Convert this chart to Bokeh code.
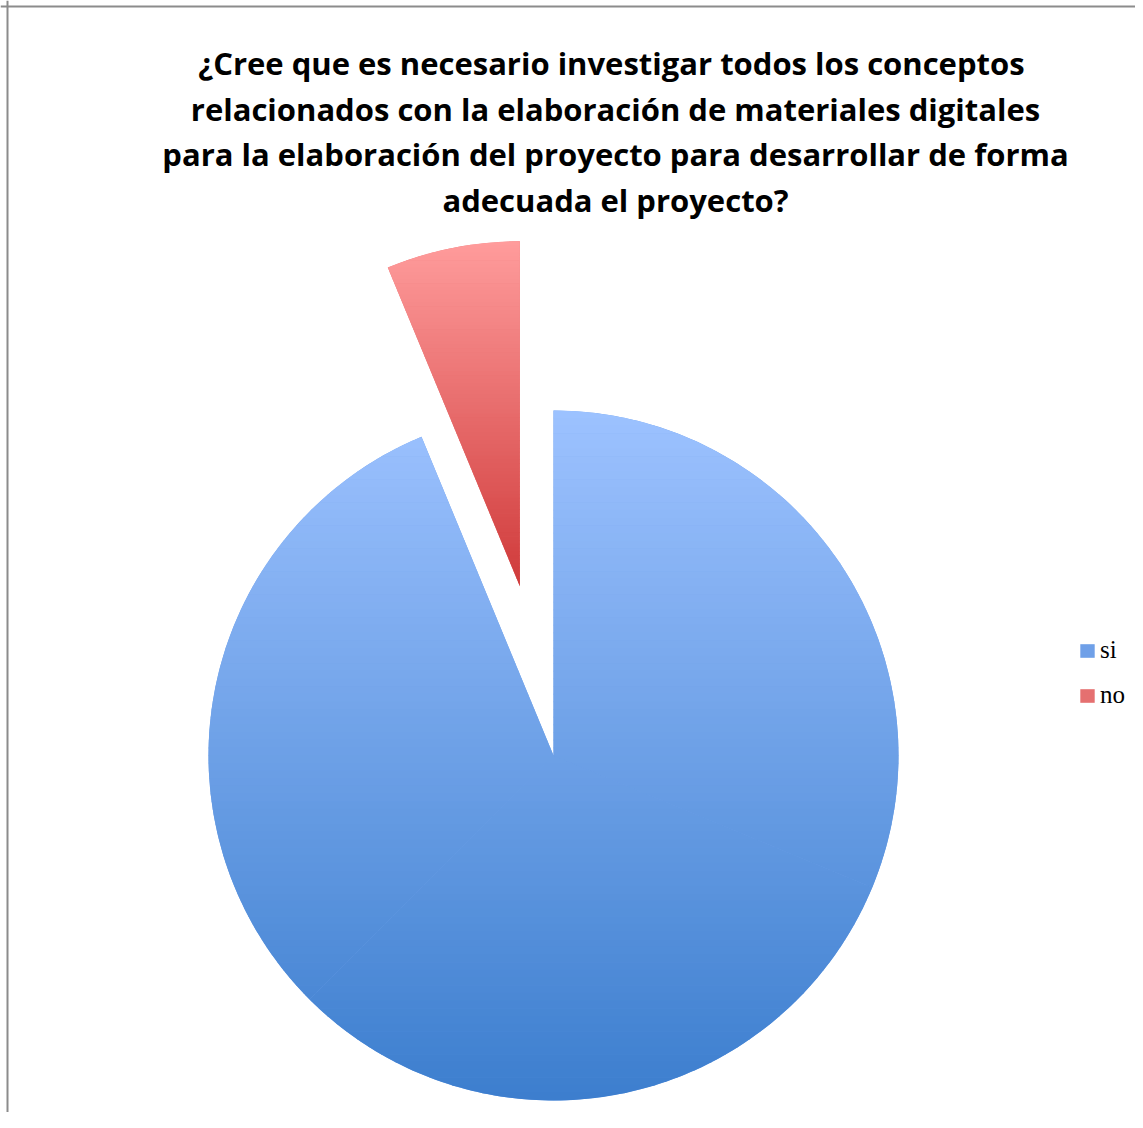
import math
from bokeh.plotting import figure
from bokeh.models import Range1d, Legend, LegendItem, Span, ColumnDataSource
from bokeh.core.properties import value
from bokeh.embed import file_html
from bokeh.resources import INLINE

# ---- data ----
categories = ["si", "no"]
counts = [15, 1]
title_lines = [
    "¿Cree que es necesario investigar todos los  conceptos",
    "relacionados con la elaboración de materiales digitales",
    "para la elaboración del proyecto para desarrollar de forma",
    "adecuada el proyecto?",
]
top_colors = [(157, 194, 255), (255, 156, 156)]
bottom_colors = [(60, 126, 206), (207, 58, 58)]
mid_colors = ["#6FA0E8", "#E57070"]
explode = [0.0, 0.5]

# ---- layout ----
W, H = 1135, 1112
CX, CY, R = 553, H - 755, 345

p = figure(width=W, height=H, output_backend="svg", toolbar_location=None,
           x_range=Range1d(0, W), y_range=Range1d(0, H), min_border=0,
           match_aspect=False)
p.axis.visible = False
p.grid.visible = False
p.outline_line_color = None
p.background_fill_color = "white"

total = sum(counts)
starts, ends, cxs, cys = [], [], [], []
cum = 0.0
for c, e in zip(counts, explode):
    a_end = math.pi / 2 - cum / total * 2 * math.pi
    cum += c
    a_start = math.pi / 2 - cum / total * 2 * math.pi
    mid = (a_start + a_end) / 2
    starts.append(a_start)
    ends.append(a_end)
    cxs.append(CX + e * R * math.cos(mid))
    cys.append(CY + e * R * math.sin(mid))

src = ColumnDataSource(dict(x=cxs, y=cys, start=starts, end=ends,
                            color=mid_colors, label=categories))
wr = p.wedge(x="x", y="y", radius=R, start_angle="start", end_angle="end",
             fill_color="color", line_color=None, source=src)


def sector(cx, cy, a0, a1):
    n = max(8, int(abs(a1 - a0) / (2 * math.pi) * 360))
    pts = [(cx, cy)]
    for k in range(n + 1):
        a = a0 + (a1 - a0) * k / n
        pts.append((cx + R * math.cos(a), cy + R * math.sin(a)))
    return pts


def clip(poly, ylo, yhi):
    def clip_edge(pts, inside, inter):
        out = []
        if not pts:
            return out
        prev = pts[-1]
        for cur in pts:
            if inside(cur):
                if not inside(prev):
                    out.append(inter(prev, cur))
                out.append(cur)
            elif inside(prev):
                out.append(inter(prev, cur))
            prev = cur
        return out

    def inter_y(yv):
        def f(a, b):
            t = (yv - a[1]) / (b[1] - a[1])
            return (a[0] + t * (b[0] - a[0]), yv)
        return f

    pts = clip_edge(poly, lambda q: q[1] >= ylo, inter_y(ylo))
    pts = clip_edge(pts, lambda q: q[1] <= yhi, inter_y(yhi))
    return pts


xs_all, ys_all, cols_all = [], [], []
NB = 90
for i in range(len(counts)):
    a0, a1 = starts[i], ends[i]
    span = a1 - a0
    npieces = max(1, int(math.ceil(span / (2 * math.pi / 3))))
    pieces = [sector(cxs[i], cys[i], a0 + span * k / npieces, a0 + span * (k + 1) / npieces)
              for k in range(npieces)]
    allpts = [q for pc in pieces for q in pc]
    ymin = min(q[1] for q in allpts)
    ymax = max(q[1] for q in allpts)
    for b in range(NB):
        yhi = ymax - (ymax - ymin) * b / NB
        ylo = ymax - (ymax - ymin) * (b + 1) / NB
        t = (b + 0.5) / NB
        c = tuple(int(round(top_colors[i][j] + (bottom_colors[i][j] - top_colors[i][j]) * t)) for j in range(3))
        hexc = "#%02x%02x%02x" % c
        for pc in pieces:
            cp = clip(pc, ylo - 0.3, yhi + 0.3)
            if len(cp) >= 3:
                xs_all.append([q[0] for q in cp])
                ys_all.append([q[1] for q in cp])
                cols_all.append(hexc)

p.patches(xs_all, ys_all, fill_color=cols_all, line_color=None)

# title
title_y = [H - 62, H - 108, H - 153, H - 199]
p.text(x=[615] * len(title_lines), y=title_y, text=title_lines,
       text_font=value("Open Sans"), text_font_style="bold",
       text_font_size="31px", text_align="center", text_baseline="middle",
       text_color="black")

# border (left + top)
p.add_layout(Span(location=7, dimension="height", line_color="#8c8c8c", line_width=2))
p.add_layout(Span(location=H - 6, dimension="width", line_color="#8c8c8c", line_width=2))

legend = Legend(items=[LegendItem(label=categories[i], renderers=[wr], index=i) for i in range(len(categories))],
                location=(1078, 403), orientation="vertical",
                glyph_width=18, glyph_height=17, label_standoff=4,
                label_text_font="Liberation Serif", label_text_font_size="25px",
                label_text_color="black",
                spacing=17, padding=0, margin=0,
                border_line_color=None, background_fill_alpha=0)
p.add_layout(legend)

open("out.html", "w").write(file_html(p, INLINE))
